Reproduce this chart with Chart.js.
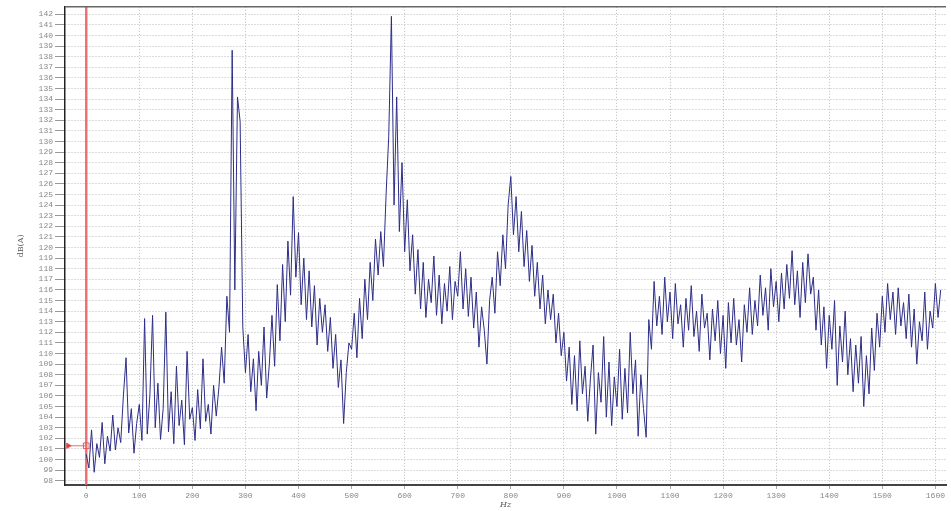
<!DOCTYPE html>
<html>
<head>
<meta charset="utf-8">
<script src="https://cdn.jsdelivr.net/npm/chart.js@4.4.1/dist/chart.umd.min.js"></script>
<style>
  html, body { margin: 0; padding: 0; background: #fff; }
  #chart { display: block; }
</style>
</head>
<body>
<canvas id="chart" width="951" height="511"></canvas>
<script>
// spectrum samples, one every 5 Hz starting at 0 Hz
const freqStart = 0;
const freqStep = 5;
const levels = [
  100.5, 99.2, 102.8, 98.8, 101.5, 100.2, 103.5, 99.6, 102.2, 100.8,
  104.2, 100.9, 103.0, 101.6, 106.0, 109.6, 102.5, 104.8, 100.6, 103.4,
  105.2, 101.8, 113.3, 102.4, 106.1, 113.6, 103.0, 107.2, 101.9, 104.8,
  113.9, 102.6, 106.4, 101.5, 108.8, 103.2, 105.6, 101.4, 110.2, 103.8,
  104.9, 101.8, 106.6, 102.9, 109.5, 103.6, 105.2, 102.4, 107.0, 104.1,
  106.8, 110.6, 107.2, 115.4, 112.0, 138.6, 116.0, 134.2, 131.9, 112.5,
  108.2, 111.8, 106.4, 109.5, 104.6, 110.2, 107.0, 112.5, 105.8, 109.0,
  113.6, 108.8, 116.5, 111.2, 118.4, 113.0, 120.6, 115.5, 124.8, 117.2,
  121.4, 114.6, 119.0, 113.2, 117.8, 112.5, 116.4, 110.8, 115.2, 112.0,
  114.6, 110.2, 113.4, 108.6, 111.8, 106.8, 109.4, 103.4, 108.2, 111.0,
  110.4, 113.8, 109.6, 115.2, 111.4, 117.0, 113.2, 118.6, 115.0, 120.8,
  117.4, 121.5, 118.2, 125.0, 130.5, 141.8, 124.0, 134.2, 121.5, 128.0,
  119.6, 124.5, 117.8, 121.2, 115.6, 119.8, 114.2, 118.6, 113.4, 117.0,
  114.8, 119.2, 113.6, 117.4, 112.8, 116.6, 114.0, 118.2, 113.2, 116.8,
  115.4, 119.6, 114.2, 118.0, 113.5, 117.2, 112.4, 115.8, 110.6, 114.4,
  112.2, 109.0, 115.0, 117.2, 113.8, 119.6, 116.4, 121.2, 118.0, 124.0,
  126.7, 121.2, 124.8, 119.6, 123.4, 118.2, 121.6, 116.8, 120.2, 115.4,
  118.6, 114.2, 117.4, 112.8, 116.0, 113.2, 115.6, 111.0, 113.8, 109.8,
  112.0, 107.4, 110.6, 105.2, 109.8, 104.6, 111.2, 106.2, 108.8, 103.6,
  107.6, 110.8, 102.4, 108.2, 105.4, 111.6, 104.0, 109.2, 103.2, 107.8,
  105.0, 110.4, 103.8, 108.6, 104.4, 112.0, 106.2, 109.4, 102.2, 108.0,
  104.8, 102.1, 113.2, 110.4, 116.8, 112.6, 115.4, 111.8, 117.2, 113.0,
  115.8, 111.4, 116.6, 112.8, 114.6, 110.6, 115.2, 112.2, 116.4, 111.6,
  114.0, 110.2, 115.6, 112.4, 113.8, 109.4, 114.2, 111.2, 115.0, 110.0,
  113.6, 108.6, 114.8, 111.0, 115.2, 110.8, 113.2, 109.2, 114.6, 112.0,
  116.2, 111.8, 115.0, 112.6, 117.4, 113.6, 116.2, 112.2, 118.0, 114.4,
  116.8, 113.0, 117.6, 114.2, 118.4, 115.2, 119.7, 114.6, 117.8, 113.4,
  118.6, 114.8, 119.4, 115.6, 117.2, 112.2, 116.0, 110.8, 114.4, 108.6,
  113.6, 110.4, 115.0, 107.0, 112.6, 109.2, 114.0, 108.0, 111.4, 106.4,
  110.8, 107.2, 111.6, 105.0, 109.8, 106.2, 112.4, 108.4, 113.8, 110.6,
  115.4, 112.0, 116.6, 113.2, 115.8, 111.8, 116.2, 112.6, 114.8, 111.4,
  115.6, 110.6, 114.2, 109.0, 113.0, 111.2, 115.8, 110.4, 114.0, 112.4,
  116.6, 113.4, 116.0
];

// cursor position (red marker)
const cursorX = 0;
const cursorY = 101.3;

// axis ranges
const xMin = -40, xMax = 1620;
const yMin = 97.6, yMax = 142.7;

const points = levels.map((v, i) => ({ x: freqStart + i * freqStep, y: v }));

const frameTop = {
  id: "frameTop",
  afterDraw(chart) {
    const { ctx, chartArea } = chart;
    ctx.save();
    ctx.strokeStyle = "#666";
    ctx.lineWidth = 1.5;
    ctx.beginPath();
    ctx.moveTo(chartArea.left, chartArea.top);
    ctx.lineTo(chartArea.right, chartArea.top);
    ctx.stroke();
    ctx.restore();
  }
};

const tickFont = { family: "Liberation Mono", size: 8 };

new Chart(document.getElementById("chart").getContext("2d"), {
  type: "line",
  data: {
    datasets: [
      {
        data: points,
        borderColor: "rgb(45,45,135)",
        borderWidth: 1,
        pointRadius: 0,
        tension: 0
      },
      {
        // vertical cursor
        data: [{ x: cursorX, y: yMin }, { x: cursorX, y: yMax }],
        borderColor: "rgba(240,90,90,0.85)",
        borderWidth: 2.5,
        pointRadius: 0
      },
      {
        // horizontal cursor marker
        data: [{ x: xMin + 6, y: cursorY }, { x: cursorX, y: cursorY }],
        borderColor: "rgba(240,90,90,0.9)",
        borderWidth: 1,
        pointStyle: ["triangle", "rect"],
        rotation: [90, 0],
        pointRadius: [3, 4],
        pointBackgroundColor: ["rgba(220,60,60,1)", "rgba(0,0,0,0)"],
        pointBorderColor: "rgba(220,90,90,1)",
        pointBorderWidth: 1
      }
    ]
  },
  options: {
    responsive: false,
    animation: false,
    layout: { padding: { top: 4, right: 0, left: 0, bottom: 0 } },
    plugins: { legend: { display: false }, tooltip: { enabled: false } },
    scales: {
      x: {
        type: "linear",
        min: xMin,
        max: xMax,
        afterFit: axis => { axis.height = 26; },
        ticks: {
          stepSize: 100, includeBounds: false, color: "#888", font: tickFont,
          maxRotation: 0, padding: 2, callback: v => String(v)
        },
        grid: { color: "#bbb", tickLength: 4, tickColor: "#aaa" },
        border: { color: "#444", width: 2, dash: [1, 2] },
        title: { display: true, text: "Hz", color: "#555", font: { family: "DejaVu Serif", size: 8, style: "italic" }, padding: { top: 0, bottom: 1 } }
      },
      y: {
        min: yMin,
        max: yMax,
        afterFit: axis => { axis.width = 65; },
        ticks: {
          stepSize: 1, includeBounds: false, color: "#888", font: tickFont,
          padding: 2, autoSkip: false, callback: v => String(v)
        },
        grid: { color: "#bbb", tickLength: 10, tickColor: "#999" },
        border: { color: "#222", width: 1.5, dash: [1, 2] },
        title: { display: true, text: "dB(A)", color: "#555", font: { family: "DejaVu Serif", size: 8 }, padding: { top: 16, bottom: 0 } }
      }
    }
  },
  plugins: [frameTop]
});
</script>
</body>
</html>
